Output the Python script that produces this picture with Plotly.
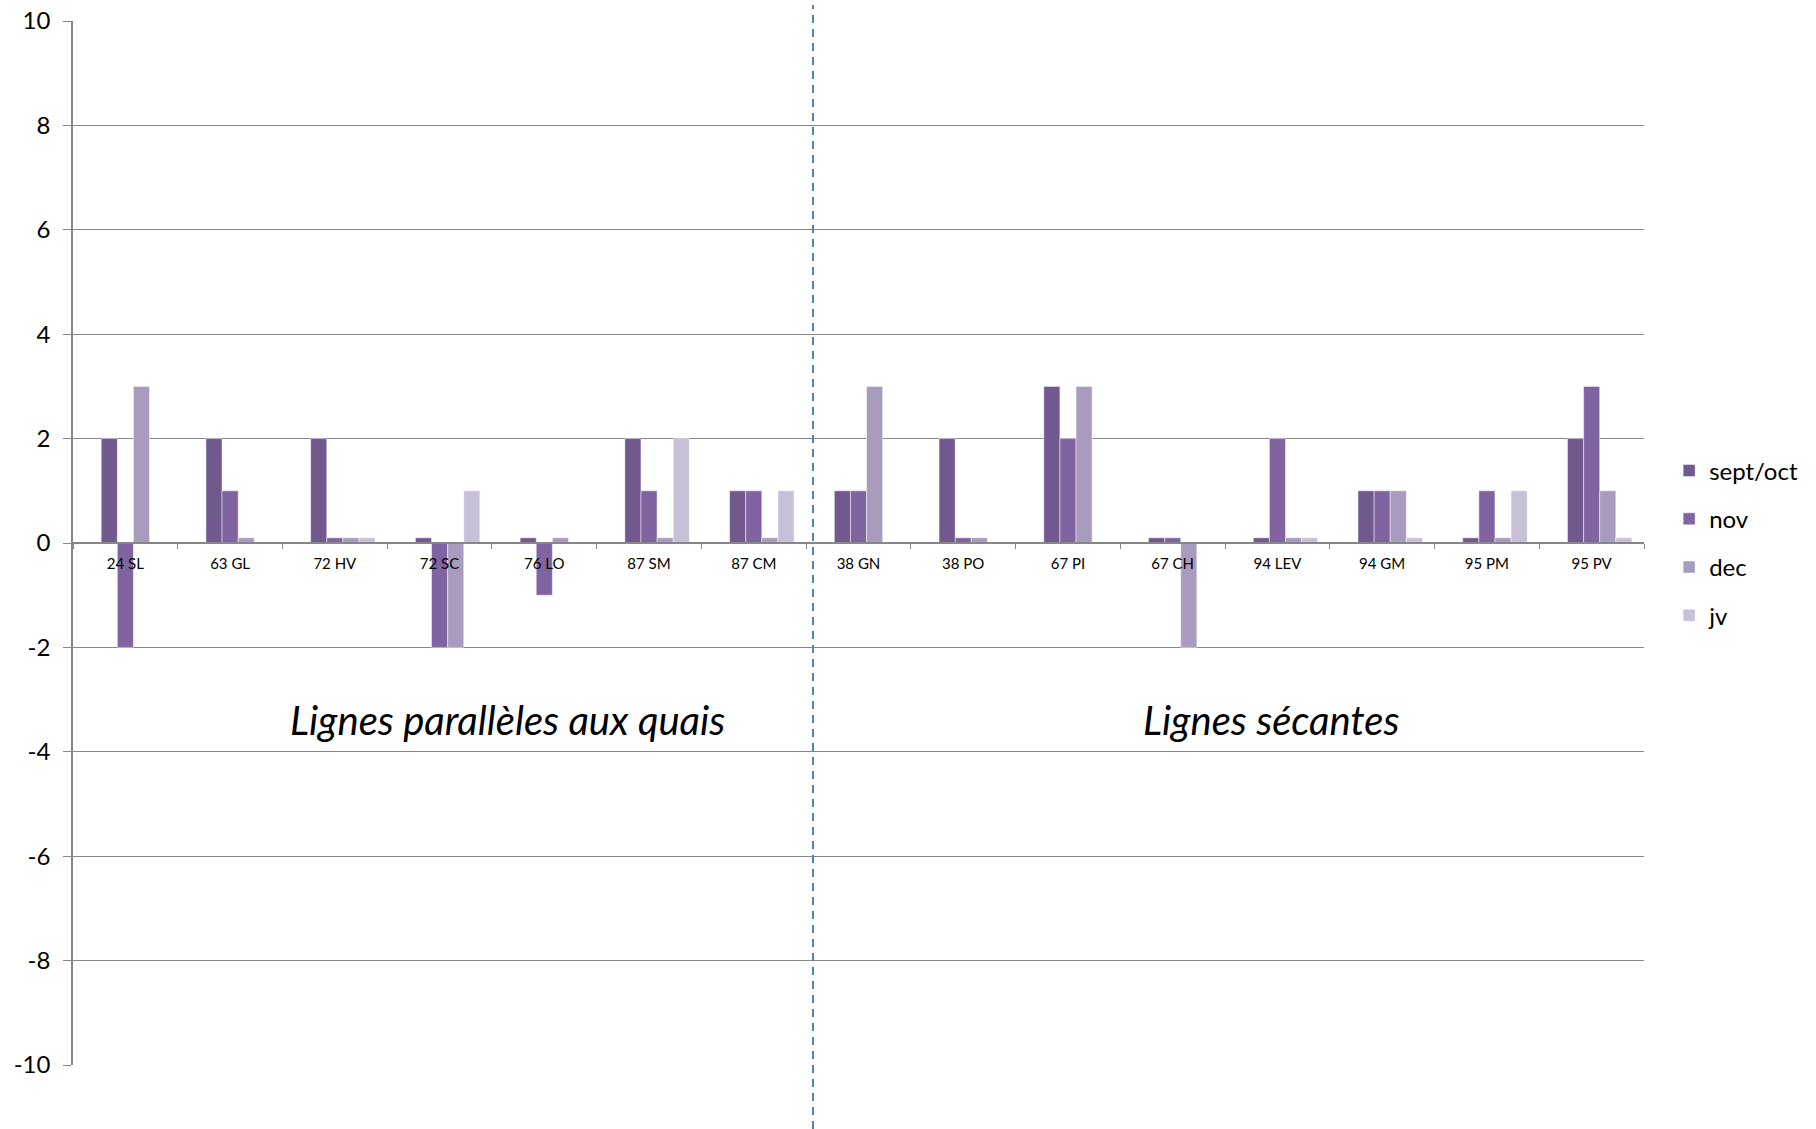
import plotly.graph_objects as go

# Categories (lines) and monthly values
lignes = ["24 SL", "63 GL", "72 HV", "72 SC", "76 LO", "87 SM", "87 CM",
          "38 GN", "38 PO", "67 PI", "67 CH", "94 LEV", "94 GM", "95 PM", "95 PV"]

sept_oct = [2, 2, 2, 0.1, 0.1, 2, 1, 1, 2, 3, 0.1, 0.1, 1, 0.1, 2]
nov      = [-2, 1, 0.1, -2, -1, 1, 1, 1, 0.1, 2, 0.1, 2, 1, 1, 3]
dec      = [3, 0.1, 0.1, -2, 0.1, 0.1, 0.1, 3, 0.1, 3, -2, 0.1, 1, 0.1, 1]
jv       = [0, 0, 0.1, 1, 0, 2, 1, 0, 0, 0, 0, 0.1, 0.1, 1, 0.1]

series_names = ["sept/oct", "nov", "dec", "jv"]
series_values = [sept_oct, nov, dec, jv]
series_colors = ["#71588f", "#8064a2", "#a99bbd", "#c8c0d8"]

y_ticks = list(range(-10, 11, 2))

FONT = "Lato"
GRID = "#878787"

# Bar slots: five slots per category with a 150% gap, the first slot left empty
slot = 1 / 6.5
first_left = -2.5 * slot

fig = go.Figure()
for k, (name, vals, col) in enumerate(zip(series_names, series_values, series_colors)):
    fig.add_trace(go.Bar(
        x=lignes, y=vals, name=name, legendgroup=name,
        width=slot, offset=first_left + (k + 1) * slot,
        marker=dict(color=col, line=dict(color="rgba(255,255,255,0.6)", width=0.8)),
    ))

W, H = 1816, 1129
ml, mr, mt, mb = 73, 172, 21, 64
plot_w = W - ml - mr
plot_h = H - mt - mb

# Vertical dashed separator between the two groups of lines
sep_x = (813 - ml) / plot_w
fig.add_shape(type="line", xref="paper", yref="paper",
              x0=sep_x, x1=sep_x, y0=-mb / plot_h, y1=1 + 16 / plot_h,
              line=dict(color="#4f81bd", width=2, dash="8px,6px"))

# Group captions
for txt, xc in [("Lignes parallèles aux quais", 507), ("Lignes sécantes", 1271)]:
    fig.add_annotation(xref="paper", yref="y", x=(xc - ml) / plot_w, y=-3.4,
                       text=txt, showarrow=False, xanchor="center", yanchor="middle",
                       font=dict(family=FONT, size=40, color="#000000", style="italic"))

fig.update_layout(
    width=W, height=H,
    margin=dict(l=ml, r=mr, t=mt, b=mb, pad=0, autoexpand=False),
    paper_bgcolor="white", plot_bgcolor="white",
    barmode="overlay",
    font=dict(family=FONT, color="#000000"),
    legend=dict(x=1.016, y=0.5, xanchor="left", yanchor="middle",
                traceorder="grouped", tracegroupgap=14,
                font=dict(size=24, family=FONT), itemwidth=30,
                bgcolor="rgba(0,0,0,0)"),
    xaxis=dict(
        type="category", anchor="free", position=0.5,
        range=[-0.5, len(lignes) - 0.5],
        showline=True, linecolor=GRID, linewidth=2,
        showgrid=False, zeroline=False,
        ticks="outside", tickson="boundaries", ticklen=5, tickcolor=GRID, tickwidth=1,
        tickfont=dict(size=15, family=FONT), ticklabelstandoff=7,
    ),
    yaxis=dict(
        range=[-10, 10], tickvals=y_ticks, ticktext=[str(v) for v in y_ticks],
        showgrid=True, gridcolor=GRID, gridwidth=1.3,
        zeroline=False,
        showline=True, linecolor=GRID, linewidth=1.5,
        ticks="outside", ticklen=8, tickcolor=GRID, tickwidth=1.3,
        tickfont=dict(size=24, family=FONT), ticklabelstandoff=8,
    ),
)

fig.write_html("out.html")
